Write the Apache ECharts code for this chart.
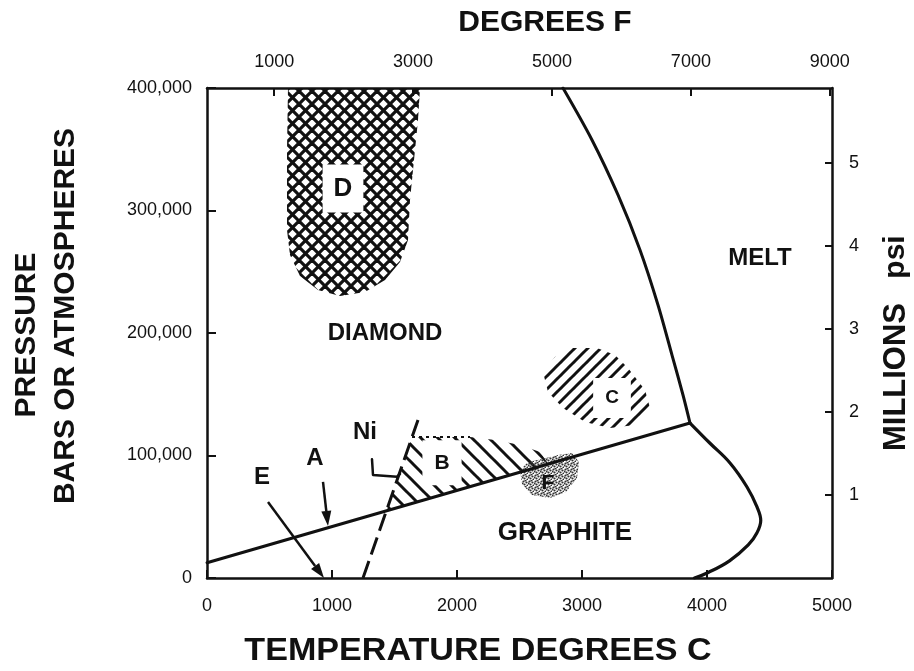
<!DOCTYPE html>
<html>
<head>
<meta charset="utf-8">
<script src="https://cdn.jsdelivr.net/npm/echarts@6/dist/echarts.min.js"></script>
<style>
  html, body { margin: 0; padding: 0; background: #fff; }
  #chart { width: 914px; height: 671px; }
</style>
</head>
<body>
<div id="chart"></div>
<script>
// Carbon phase diagram: temperature in degrees C, pressure in bar.
const tempTicksF = [1000, 3000, 5000, 7000, 9000];
const psiTicks = [1, 2, 3, 4, 5];

// Phase boundaries [T (C), P (bar)]
const graphiteDiamondLine = [[0, 12500], [3864, 126500]];
const diamondMeltLine = [
  [2848, 400000], [3080, 357600], [3288, 312700], [3464, 267800],
  [3608, 222900], [3720, 182000], [3808, 149400], [3864, 126500]
];
const graphiteMeltLine = [
  [3864, 126500], [4024, 110000], [4184, 93900], [4320, 74300],
  [4400, 58000], [4430, 47000], [4400, 37000], [4330, 27000],
  [4180, 14000], [4010, 4500], [3900, 0]
];
const nickelSolventLine = [[1248, 0], [1688, 129000]];
const nickelPointer = [[1320, 96900], [1328, 84100], [1520, 82700], [1544, 85000]];

// Synthesis regions
const regionD = [
  [648, 400000], [1704, 400000], [1688, 373900], [1656, 341200], [1624, 308600],
  [1608, 276000], [1544, 258000], [1424, 243300], [1264, 233500], [1064, 230200],
  [888, 235100], [744, 246500], [664, 263700], [640, 284000], [640, 349400]
];
const regionB = [
  [1436, 55000], [1640, 115100], [2104, 115100], [2304, 112700], [2504, 108600],
  [2664, 102900], [2728, 93400]
];
const regionBTop = [[1640, 115100], [2104, 115100]];
const regionC = [
  [2688, 168200], [2784, 180400], [2920, 187800], [3120, 187800], [3264, 182000],
  [3368, 171400], [3504, 153500], [3544, 138800], [3424, 124900], [3224, 122400],
  [3024, 127300], [2848, 138800], [2728, 151800]
];
const regionF = [
  [2504, 88200], [2568, 94700], [2680, 97100], [2808, 100400], [2920, 102000],
  [2976, 94700], [2960, 81600], [2872, 70200], [2744, 65300], [2600, 67800],
  [2520, 76700]
];

// Pointer arrows [start, tip]
const arrowA = [[928, 78400], [968, 42500]];
const arrowE = [[488, 62000], [936, 0]];

// Annotations
const labelTexts = ['DIAMOND', 'MELT', 'GRAPHITE', 'Ni', 'A', 'E', 'D', 'B', 'C', 'F'];
const labelPositions = [
  [1424, 200000], [4424, 261000], [2864, 36700], [1264, 119000], [864, 98000],
  [440, 82400], [1088, 318000], [1880, 94000], [3240, 147000], [2728, 77600]
];

const FONT = '"Liberation Sans", Arial, Helvetica, sans-serif';
const INK = '#111';

const labelStyles = {
  'DIAMOND': { size: 24 }, 'MELT': { size: 24 }, 'GRAPHITE': { size: 26 },
  'Ni': { size: 24 }, 'A': { size: 24 }, 'E': { size: 24 },
  'D': { size: 26, box: [12, 11, 10, 11] },
  'B': { size: 21, box: [12, 12, 12, 12] },
  'C': { size: 19, box: [11, 12, 10, 12] },
  'F': { size: 21 }
};

function hatch(size, dirs, width) {
  const c = document.createElement('canvas');
  c.width = size; c.height = size;
  const g = c.getContext('2d');
  g.strokeStyle = INK; g.lineWidth = width;
  dirs.forEach(function (d) {
    [-size, 0, size].forEach(function (off) {
      g.beginPath();
      if (d === 'down') { g.moveTo(off - 1, -1); g.lineTo(off + size + 1, size + 1); }
      else { g.moveTo(off - 1, size + 1); g.lineTo(off + size + 1, -1); }
      g.stroke();
    });
  });
  return { image: c, repeat: 'repeat' };
}

function stipple() {
  const c = document.createElement('canvas');
  c.width = 6; c.height = 6;
  const g = c.getContext('2d');
  g.fillStyle = '#333';
  [[1, 1], [4, 2], [2, 4], [5, 5], [0, 3], [3, 0]].forEach(function (p) {
    g.beginPath(); g.arc(p[0] + 0.5, p[1] + 0.5, 1.1, 0, Math.PI * 2); g.fill();
  });
  return { image: c, repeat: 'repeat' };
}

function regionSeries(points, fill, z) {
  return {
    type: 'custom', silent: true, z: z || 1,
    data: points,
    renderItem: function (params, api) {
      if (params.dataIndex !== 0) return null;
      return {
        type: 'polygon',
        shape: { points: points.map(function (p) { return api.coord(p); }) },
        style: { fill: fill, stroke: null }
      };
    }
  };
}

function lineSeries(points, width, extra) {
  return Object.assign({
    type: 'line', data: points, showSymbol: false, silent: true, z: 3,
    lineStyle: { color: INK, width: width, cap: 'round', join: 'round' }
  }, extra || {});
}

function arrowSeries(pair) {
  return {
    type: 'custom', silent: true, z: 4,
    data: [pair[0]],
    renderItem: function (params, api) {
      const a = api.coord(pair[0]);
      const b = api.coord(pair[1]);
      const dx = b[0] - a[0], dy = b[1] - a[1];
      const len = Math.sqrt(dx * dx + dy * dy);
      const ux = dx / len, uy = dy / len;
      const head = 15, half = 5;
      const base = [b[0] - ux * head, b[1] - uy * head];
      return {
        type: 'group',
        children: [
          { type: 'line', shape: { x1: a[0], y1: a[1], x2: base[0], y2: base[1] },
            style: { stroke: INK, lineWidth: 2.5 } },
          { type: 'polygon', shape: { points: [
              b, [base[0] - uy * half, base[1] + ux * half], [base[0] + uy * half, base[1] - ux * half]
            ] }, style: { fill: INK } }
        ]
      };
    }
  };
}

const chart = echarts.init(document.getElementById('chart'), null, { renderer: 'canvas' });

const axisLine = { show: true, onZero: false, lineStyle: { color: INK, width: 2.5 } };
const tickStyle = { color: INK, width: 2 };
const tickLabel = { color: INK, fontSize: 18, fontFamily: FONT };
const plain = function (v) { return String(v); };

chart.setOption({
  backgroundColor: '#fff',
  animation: false,
  grid: { left: 207, right: 82, top: 88, bottom: 93, containLabel: false },
  xAxis: [
    {
      type: 'value', position: 'bottom', min: 0, max: 5000, interval: 1000,
      axisLine: axisLine,
      axisTick: { show: true, inside: true, length: 8, lineStyle: tickStyle },
      axisLabel: Object.assign({ margin: 19, formatter: plain }, tickLabel),
      splitLine: { show: false }
    },
    {
      type: 'value', position: 'top', min: 32, max: 9032,
      axisLine: axisLine,
      axisTick: { show: true, inside: true, length: 8, lineStyle: tickStyle, customValues: tempTicksF },
      axisLabel: Object.assign({ margin: 17, customValues: tempTicksF, formatter: plain }, tickLabel),
      splitLine: { show: false }
    }
  ],
  yAxis: [
    {
      type: 'value', position: 'left', min: 0, max: 400000, interval: 100000,
      axisLine: axisLine,
      axisTick: { show: true, inside: true, length: 9, lineStyle: tickStyle },
      axisLabel: Object.assign({
        margin: 15,
        formatter: function (v) { return String(v).replace(/\B(?=(\d{3})+(?!\d))/g, ','); }
      }, tickLabel),
      splitLine: { show: false }
    },
    {
      type: 'value', position: 'right', min: 0, max: 5.9,
      axisLine: axisLine,
      axisTick: { show: true, inside: true, length: 7, lineStyle: tickStyle, customValues: psiTicks },
      axisLabel: Object.assign({ margin: 17, customValues: psiTicks, formatter: plain }, tickLabel),
      splitLine: { show: false }
    }
  ],
  graphic: [
    { type: 'text', x: 545, y: 23, style: { text: 'DEGREES F', font: 'bold 30px ' + FONT, fill: INK, align: 'center', verticalAlign: 'middle' } },
    { type: 'text', x: 478, y: 651, scaleX: 1.1, style: { text: 'TEMPERATURE DEGREES C', font: 'bold 31px ' + FONT, fill: INK, align: 'center', verticalAlign: 'middle' } },
    { type: 'text', x: 27, y: 335, rotation: Math.PI / 2, style: { text: 'PRESSURE', font: 'bold 30px ' + FONT, fill: INK, align: 'center', verticalAlign: 'middle' } },
    { type: 'text', x: 66, y: 316, rotation: Math.PI / 2, style: { text: 'BARS OR ATMOSPHERES', font: 'bold 30px ' + FONT, fill: INK, align: 'center', verticalAlign: 'middle' } },
    { type: 'text', x: 896, y: 377, rotation: Math.PI / 2, style: { text: 'MILLIONS', font: 'bold 31px ' + FONT, fill: INK, align: 'center', verticalAlign: 'middle' } },
    { type: 'text', x: 896, y: 257, rotation: Math.PI / 2, style: { text: 'psi', font: 'bold 30px ' + FONT, fill: INK, align: 'center', verticalAlign: 'middle' } }
  ],
  series: [
    regionSeries(regionD, hatch(13, ['down', 'up'], 3.2), 1),
    regionSeries(regionB, hatch(17, ['down'], 3), 1),
    regionSeries(regionC, hatch(13, ['up'], 3), 1),
    regionSeries(regionF, stipple(), 1),
    lineSeries(regionBTop, 2, { lineStyle: { color: INK, width: 2, type: [3, 4] } }),
    lineSeries(graphiteDiamondLine, 3),
    lineSeries(diamondMeltLine, 3, { smooth: 0.3 }),
    lineSeries(graphiteMeltLine, 3.2, { smooth: 0.4 }),
    lineSeries(nickelSolventLine, 3, { lineStyle: { color: INK, width: 3, type: [18, 7] } }),
    lineSeries(nickelPointer, 2.5),
    arrowSeries(arrowA),
    arrowSeries(arrowE),
    {
      type: 'custom', silent: true, z: 6,
      data: labelPositions,
      renderItem: function (params, api) {
        const i = params.dataIndex;
        const text = labelTexts[i];
        const st = labelStyles[text];
        const p = api.coord(labelPositions[i]);
        const style = {
          text: text, font: 'bold ' + st.size + 'px ' + FONT, fill: INK,
          align: 'center', verticalAlign: 'middle'
        };
        if (st.box) { style.backgroundColor = '#fff'; style.padding = st.box; }
        return { type: 'text', x: p[0], y: p[1], style: style };
      }
    }
  ]
});
</script>
</body>
</html>
